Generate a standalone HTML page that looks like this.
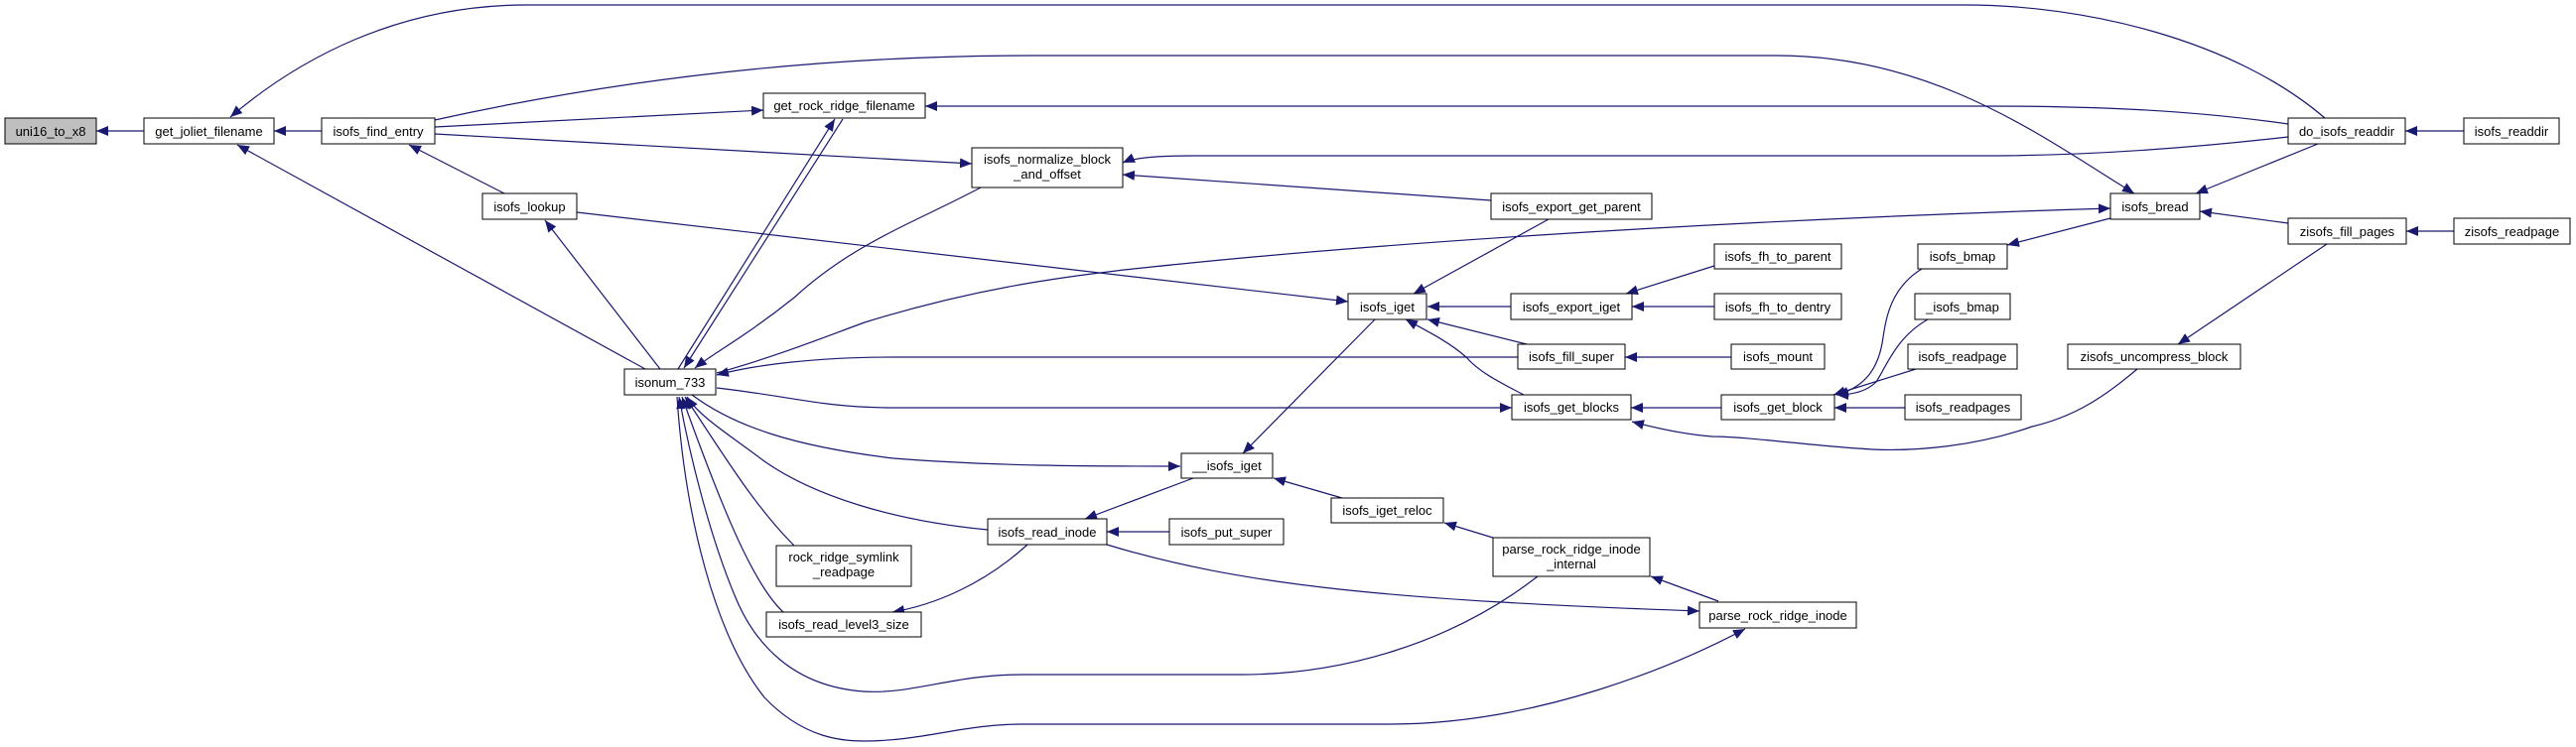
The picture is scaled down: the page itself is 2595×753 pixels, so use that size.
<!DOCTYPE html>
<html><head><meta charset="utf-8"><style>
html,body{margin:0;padding:0;background:#fff;}
svg{display:block;}
text{font-family:"Liberation Sans",sans-serif;font-size:13px;fill:#000;}
.n{fill:#fff;stroke:#000;stroke-width:1;}
.e{fill:none;stroke:#191970;stroke-width:1.2;}
</style></head><body>
<svg width="2595" height="753" viewBox="0 0 2595 753" xmlns="http://www.w3.org/2000/svg">
<defs>
<marker id="a" markerUnits="userSpaceOnUse" markerWidth="14" markerHeight="12" refX="12" refY="5" orient="auto">
<path d="M0,0 L12,5 L0,10 z" fill="#191970"/>
</marker>
</defs>
<g class="e" marker-end="url(#a)">
<path d="M145,132 L97,132"/>
<path d="M324,132 L276,132"/>
<path d="M2342,119 C2250,40 2100,5 1980,5 L530,5 C400,5 300,60 232,118"/>
<path d="M650,372 L239,146"/>
<path d="M508,195 L412,146"/>
<path d="M438,128 L769,111"/>
<path d="M438,135 L979,165"/>
<path d="M438,121 C600,85 800,56 1040,56 L1790,56 C1950,56 2060,140 2150,195"/>
<path d="M2305,125 C2200,110 2100,107 2000,107 L932,107"/>
<path d="M2305,138 C2200,150 2100,157 2000,157 L1200,157 C1160,157 1140,160 1131,164"/>
<path d="M2335,145 L2212,195"/>
<path d="M581,214 L1358,304"/>
<path d="M665,372 L549,222"/>
<path d="M683,372 L841,120"/>
<path d="M849,120 L689,371"/>
<path d="M988,189 C920,225 860,245 800,300 C750,340 720,355 700,371"/>
<path d="M1529,360 L900,360 C820,360 760,368 722,378"/>
<path d="M722,391 C800,400 830,411 900,411 L1523,411"/>
<path d="M697,398 C740,430 800,450 900,462 C1000,470 1100,470 1189,470"/>
<path d="M995,534 C900,525 820,500 770,465 C730,435 705,420 692,400"/>
<path d="M800,550 C760,510 730,460 690,400"/>
<path d="M789,617 C760,590 730,520 687,400"/>
<path d="M1549,581 C1460,650 1350,680 1250,680 L1030,680 C960,680 920,700 870,697 C800,692 760,650 740,600 C715,540 695,460 684,400"/>
<path d="M682,400 C690,520 720,640 770,703 C810,745 850,747 870,747 C930,747 970,730 1030,730 L1400,730 C1550,730 1690,670 1758,634"/>
<path d="M722,376 C780,360 830,340 871,325 C1000,285 1100,275 1200,265 C1450,240 1800,220 2126,210"/>
<path d="M1115,549 C1250,590 1400,605 1712,616"/>
<path d="M1731,606 L1663,581"/>
<path d="M1504,542 L1455,527"/>
<path d="M1352,502 L1283,482"/>
<path d="M1202,482 L1093,523"/>
<path d="M1178,536 L1115,536"/>
<path d="M1035,549 C990,590 940,610 899,617"/>
<path d="M1385,322 L1252,457"/>
<path d="M1535,398 C1510,385 1490,375 1477,360 C1460,345 1440,335 1416,322"/>
<path d="M1538,347 L1438,322"/>
<path d="M1522,309 L1438,309"/>
<path d="M1560,221 L1424,296"/>
<path d="M1502,202 L1131,176"/>
<path d="M1727,268 L1638,296"/>
<path d="M1727,309 L1644,309"/>
<path d="M1744,360 L1637,360"/>
<path d="M1734,411 L1643,411"/>
<path d="M2153,372 C2120,400 2090,420 2047,430 C1990,450 1930,455 1886,453 C1830,450 1760,440 1725,440 C1700,438 1670,432 1644,425"/>
<path d="M1936,271 C1905,290 1900,320 1897,340 C1893,370 1880,390 1850,398"/>
<path d="M1942,322 C1910,340 1900,370 1890,385 C1880,395 1865,398 1850,398"/>
<path d="M1930,372 L1847,398"/>
<path d="M1919,411 L1848,411"/>
<path d="M2126,220 L2022,247"/>
<path d="M2305,225 L2216,213"/>
<path d="M2472,233 L2424,233"/>
<path d="M2482,132 L2423,132"/>
<path d="M2344,246 L2194,347"/>
</g>
<g>
<rect class="n" x="5" y="119" width="92" height="26" style="fill:#bfbfbf"/><text x="51" y="137" text-anchor="middle">uni16_to_x8</text>
<rect class="n" x="145" y="119" width="131" height="26"/><text x="210.5" y="137" text-anchor="middle">get_joliet_filename</text>
<rect class="n" x="324" y="119" width="114" height="26"/><text x="381" y="137" text-anchor="middle">isofs_find_entry</text>
<rect class="n" x="486" y="195" width="95" height="26"/><text x="533.5" y="213" text-anchor="middle">isofs_lookup</text>
<rect class="n" x="769" y="94" width="163" height="25"/><text x="850.5" y="111" text-anchor="middle">get_rock_ridge_filename</text>
<rect class="n" x="629" y="372" width="92" height="26"/><text x="675" y="390" text-anchor="middle">isonum_733</text>
<rect class="n" x="782" y="550" width="136" height="41"/><text x="850" y="566" text-anchor="middle">rock_ridge_symlink</text><text x="850" y="581" text-anchor="middle">_readpage</text>
<rect class="n" x="772" y="617" width="156" height="25"/><text x="850" y="634" text-anchor="middle">isofs_read_level3_size</text>
<rect class="n" x="979" y="149" width="152" height="40"/><text x="1055" y="165" text-anchor="middle">isofs_normalize_block</text><text x="1055" y="180" text-anchor="middle">_and_offset</text>
<rect class="n" x="1502" y="195" width="162" height="26"/><text x="1583" y="213" text-anchor="middle">isofs_export_get_parent</text>
<rect class="n" x="1358" y="296" width="79" height="26"/><text x="1397.5" y="314" text-anchor="middle">isofs_iget</text>
<rect class="n" x="1522" y="296" width="122" height="26"/><text x="1583" y="314" text-anchor="middle">isofs_export_iget</text>
<rect class="n" x="1529" y="347" width="108" height="25"/><text x="1583" y="364" text-anchor="middle">isofs_fill_super</text>
<rect class="n" x="1523" y="398" width="120" height="25"/><text x="1583" y="415" text-anchor="middle">isofs_get_blocks</text>
<rect class="n" x="1190" y="457" width="92" height="25"/><text x="1236" y="474" text-anchor="middle">__isofs_iget</text>
<rect class="n" x="1341" y="502" width="113" height="25"/><text x="1397.5" y="519" text-anchor="middle">isofs_iget_reloc</text>
<rect class="n" x="995" y="523" width="120" height="26"/><text x="1055" y="541" text-anchor="middle">isofs_read_inode</text>
<rect class="n" x="1178" y="523" width="115" height="26"/><text x="1235.5" y="541" text-anchor="middle">isofs_put_super</text>
<rect class="n" x="1504" y="542" width="158" height="39"/><text x="1583" y="558" text-anchor="middle">parse_rock_ridge_inode</text><text x="1583" y="573" text-anchor="middle">_internal</text>
<rect class="n" x="1712" y="607" width="158" height="26"/><text x="1791" y="625" text-anchor="middle">parse_rock_ridge_inode</text>
<rect class="n" x="2305" y="119" width="118" height="26"/><text x="2364" y="137" text-anchor="middle">do_isofs_readdir</text>
<rect class="n" x="2482" y="119" width="96" height="26"/><text x="2530" y="137" text-anchor="middle">isofs_readdir</text>
<rect class="n" x="2126" y="195" width="90" height="26"/><text x="2171" y="213" text-anchor="middle">isofs_bread</text>
<rect class="n" x="2305" y="220" width="119" height="26"/><text x="2364.5" y="238" text-anchor="middle">zisofs_fill_pages</text>
<rect class="n" x="2472" y="220" width="117" height="26"/><text x="2530.5" y="238" text-anchor="middle">zisofs_readpage</text>
<rect class="n" x="1727" y="246" width="128" height="25"/><text x="1791" y="263" text-anchor="middle">isofs_fh_to_parent</text>
<rect class="n" x="1932" y="246" width="90" height="25"/><text x="1977" y="263" text-anchor="middle">isofs_bmap</text>
<rect class="n" x="1727" y="296" width="128" height="26"/><text x="1791" y="314" text-anchor="middle">isofs_fh_to_dentry</text>
<rect class="n" x="1929" y="296" width="96" height="26"/><text x="1977" y="314" text-anchor="middle">_isofs_bmap</text>
<rect class="n" x="1744" y="347" width="94" height="25"/><text x="1791" y="364" text-anchor="middle">isofs_mount</text>
<rect class="n" x="1922" y="347" width="110" height="25"/><text x="1977" y="364" text-anchor="middle">isofs_readpage</text>
<rect class="n" x="2083" y="347" width="174" height="25"/><text x="2170" y="364" text-anchor="middle">zisofs_uncompress_block</text>
<rect class="n" x="1734" y="398" width="114" height="25"/><text x="1791" y="415" text-anchor="middle">isofs_get_block</text>
<rect class="n" x="1919" y="398" width="117" height="25"/><text x="1977.5" y="415" text-anchor="middle">isofs_readpages</text>
</g>
</svg>
</body></html>
